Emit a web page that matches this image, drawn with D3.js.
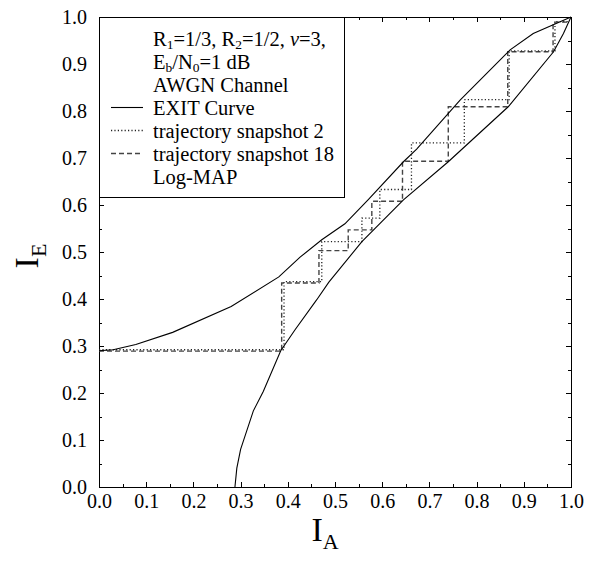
<!doctype html>
<html lang="en">
<head>
<meta charset="utf-8">
<title>EXIT chart</title>
<style>
body { margin: 0; background: #fff; }
svg { font-family: "Liberation Serif", "Times New Roman", serif; }
.axis line { stroke: #000; shape-rendering: crispEdges; }
.axis path { display: none; }
</style>
</head>
<body>
<script src="https://d3js.org/d3.v7.min.js"></script>
<script>
// values
var majorTicks = [0.0, 0.1, 0.2, 0.3, 0.4, 0.5, 0.6, 0.7, 0.8, 0.9, 1.0];
var minorTicks = [0.05, 0.15, 0.25, 0.35, 0.45, 0.55, 0.65, 0.75, 0.85, 0.95];

// inner code EXIT curve, IE = f(IA)
var innerIA = [0, 0.03, 0.078, 0.156, 0.28, 0.381, 0.426, 0.472, 0.521, 0.57, 0.645, 0.673, 0.765, 0.871, 0.92, 1.0];
var innerIE = [0.29, 0.292, 0.303, 0.329, 0.384, 0.447, 0.489, 0.526, 0.56, 0.611, 0.692, 0.719, 0.823, 0.93, 0.965, 1.0];

// outer code EXIT curve (inverted axes)
var outerIA = [0.288, 0.292, 0.3, 0.327, 0.348, 0.385, 0.415, 0.461, 0.487, 0.557, 0.645, 0.74, 0.867, 0.963, 0.984, 1.0];
var outerIE = [0.0, 0.04, 0.08, 0.162, 0.203, 0.29, 0.334, 0.398, 0.436, 0.522, 0.611, 0.692, 0.809, 0.926, 0.965, 1.0];

// trajectory snapshot 2 (dotted)
var snap2IA = [0, 0.392, 0.392, 0.472, 0.472, 0.557, 0.557, 0.595, 0.595, 0.662, 0.662, 0.774, 0.774, 0.869, 0.869, 0.966, 0.966, 0.996];
var snap2IE = [0.292, 0.292, 0.437, 0.437, 0.522, 0.522, 0.572, 0.572, 0.633, 0.633, 0.732, 0.732, 0.824, 0.824, 0.928, 0.928, 0.99, 0.99];

// trajectory snapshot 18 (dashed)
var snap18IA = [0, 0.387, 0.387, 0.466, 0.466, 0.528, 0.528, 0.578, 0.578, 0.643, 0.643, 0.74, 0.74, 0.866, 0.866, 0.962, 0.962, 0.994];
var snap18IE = [0.289, 0.289, 0.434, 0.434, 0.503, 0.503, 0.547, 0.547, 0.608, 0.608, 0.693, 0.693, 0.809, 0.809, 0.926, 0.926, 0.989, 0.989];

// legend rows: [text, kind] where kind is sub / it / plain
var legendRows = [
  [["R", ""], ["1", "sub"], ["=1/3, R", ""], ["2", "sub"], ["=1/2, ", ""], ["\u03bd", "it"], ["=3,", ""]],
  [["E", ""], ["b", "sub"], ["/N", ""], ["0", "sub"], ["=1 dB", ""]],
  [["AWGN Channel", ""]],
  [["EXIT Curve", ""]],
  [["trajectory snapshot 2", ""]],
  [["trajectory snapshot 18", ""]],
  [["Log-MAP", ""]]
];
var legendSamples = [null, null, null, "solid", "dotted", "dashed", null];

var serif = "Liberation Serif, Times New Roman, serif";

var margin = {top: 17, right: 24, bottom: 74, left: 99},
    width = 595 - margin.left - margin.right,
    height = 561 - margin.top - margin.bottom;

var x = d3.scaleLinear().domain([0, 1]).range([0, width]);
var y = d3.scaleLinear().domain([0, 1]).range([height, 0]);

var svg = d3.select("body").append("svg")
    .attr("width", 595)
    .attr("height", 561);

var g = svg.append("g")
    .attr("transform", "translate(" + margin.left + "," + margin.top + ")");

var fmt = d3.format(".1f");

function addAxis(axis, tx, ty) {
  var a = g.append("g").attr("class", "axis")
      .attr("transform", "translate(" + tx + "," + ty + ")")
      .call(axis)
      .attr("font-family", serif)
      .attr("font-size", 20);
  a.selectAll("text").attr("fill", "#000");
  return a;
}

// ticks on all four sides, pointing inwards
addAxis(d3.axisBottom(x).tickValues(majorTicks).tickSize(-5).tickPadding(7).tickFormat(fmt), 0, height);
addAxis(d3.axisBottom(x).tickValues(minorTicks).tickSize(-3).tickFormat(""), 0, height);
addAxis(d3.axisTop(x).tickValues(majorTicks).tickSize(-5).tickFormat(""), 0, 0);
addAxis(d3.axisTop(x).tickValues(minorTicks).tickSize(-3).tickFormat(""), 0, 0);
addAxis(d3.axisLeft(y).tickValues(majorTicks).tickSize(-5).tickPadding(12).tickFormat(fmt), 0, 0);
addAxis(d3.axisLeft(y).tickValues(minorTicks).tickSize(-3).tickFormat(""), 0, 0);
addAxis(d3.axisRight(y).tickValues(majorTicks).tickSize(-5).tickFormat(""), width, 0);
addAxis(d3.axisRight(y).tickValues(minorTicks).tickSize(-3).tickFormat(""), width, 0);

g.append("rect")
    .attr("width", width)
    .attr("height", height)
    .attr("fill", "none")
    .attr("stroke", "#000")
    .attr("stroke-width", 1)
    .attr("shape-rendering", "crispEdges");

var line = d3.line()
    .x(function(d) { return x(d[0]); })
    .y(function(d) { return y(d[1]); });

function zip(a, b) { return a.map(function(v, i) { return [v, b[i]]; }); }

var styles = {
  solid:  {stroke: "#000", width: 1.1, dash: null},
  dotted: {stroke: "#222", width: 1.3, dash: "1.2,2.2"},
  dashed: {stroke: "#444", width: 1.4, dash: "5,3"}
};

function drawPath(pts, s) {
  g.append("path")
      .datum(pts)
      .attr("d", line)
      .attr("fill", "none")
      .attr("stroke", styles[s].stroke)
      .attr("stroke-width", styles[s].width)
      .attr("stroke-dasharray", styles[s].dash);
}

drawPath(zip(snap18IA, snap18IE), "dashed");
drawPath(zip(snap2IA, snap2IE), "dotted");
drawPath(zip(innerIA, innerIE), "solid");
drawPath(zip(outerIA, outerIE), "solid");

// legend box
var leg = g.append("g");
leg.append("rect")
    .attr("width", 245)
    .attr("height", 180)
    .attr("fill", "#fff")
    .attr("stroke", "#000")
    .attr("stroke-width", 1)
    .attr("shape-rendering", "crispEdges");

legendRows.forEach(function(row, i) {
  var base = 28.5 + i * 23;
  var t = leg.append("text")
      .attr("x", 54)
      .attr("y", base)
      .style("font-size", "20.5px");
  var shifted = false;
  row.forEach(function(p) {
    var sp = t.append("tspan").text(p[0]);
    if (p[1] === "sub") {
      sp.attr("dy", 3.5).style("font-size", "13.5px");
      shifted = true;
    } else if (shifted) {
      sp.attr("dy", -3.5);
      shifted = false;
    }
    if (p[1] === "it") sp.style("font-style", "italic");
  });
  if (legendSamples[i]) {
    var s = styles[legendSamples[i]];
    leg.append("line")
        .attr("x1", 12).attr("x2", 44)
        .attr("y1", base - 7).attr("y2", base - 7)
        .attr("stroke", s.stroke)
        .attr("stroke-width", s.width)
        .attr("stroke-dasharray", s.dash);
  }
});

// axis titles
var xt = svg.append("text")
    .attr("x", margin.left + width / 2 - 10)
    .attr("y", 541)
    .attr("text-anchor", "middle")
    .style("font-size", "34px");
xt.append("tspan").text("I");
xt.append("tspan").attr("dy", 8).style("font-size", "22px").text("A");

var yt = svg.append("text")
    .attr("transform", "translate(38," + (margin.top + height / 2 + 4) + ") rotate(-90)")
    .attr("text-anchor", "middle")
    .style("font-size", "34px");
yt.append("tspan").text("I");
yt.append("tspan").attr("dy", 8).style("font-size", "22px").text("E");
</script>
</body>
</html>
